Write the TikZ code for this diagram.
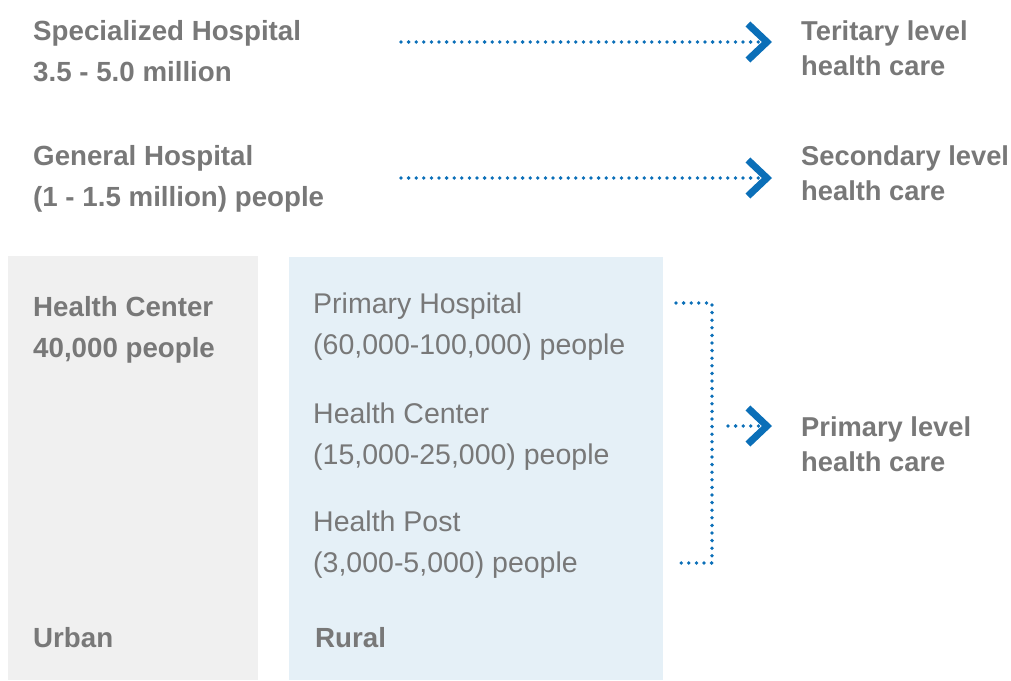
\documentclass[tikz,border=0pt]{standalone}
\usepackage{fontspec}
\setmainfont{Liberation Sans}
\usetikzlibrary{arrows.meta}
\definecolor{labelgray}{HTML}{787878}
\definecolor{urbanfill}{HTML}{F0F0F0}
\definecolor{ruralfill}{HTML}{E5F0F7}
\definecolor{careblue}{HTML}{0B6FB8}
\begin{document}
\begin{tikzpicture}[x=1pt, y=-1pt,
		bigtext/.style={anchor=base west, inner sep=0pt, align=left, text=labelgray, font=\fontsize{27.7}{41}\selectfont\bfseries},
		areatext/.style={anchor=base west, inner sep=0pt, align=left, text=labelgray, font=\fontsize{28.5}{41}\selectfont},
		leveltext/.style={anchor=base west, inner sep=0pt, align=left, text=labelgray, font=\fontsize{27.3}{35}\selectfont\bfseries},
		dotline/.style={draw=careblue, line width=3.8pt, line cap=round, dash pattern=on 0pt off 7.6pt},
		chevron/.style={dotline, -{Straight Barb[length=19pt, width=36pt, line width=7pt, sep=5pt]}}]
	\useasboundingbox (0,0) rectangle (1011,680);
	% Background areas
	\fill [urbanfill] (8,256) rectangle (258,680);
	\fill [ruralfill] (289,257) rectangle (663,680);
	% Hospital levels
	\node [bigtext] (spec) at (33,81) {Specialized Hospital\\3.5 - 5.0 million};
	\node [bigtext] (gen) at (33,206) {General Hospital\\(1 - 1.5 million) people};
	% Urban side
	\node [bigtext] (hc-urban) at (33,357) {Health Center\\40,000 people};
	\node [bigtext] (urban) at (33,647) {Urban};
	% Rural side
	\node [areatext] (ph) at (313,354) {Primary Hospital\\(60,000-100,000) people};
	\node [areatext] (hc) at (313,464) {Health Center\\(15,000-25,000) people};
	\node [areatext] (hp) at (313,572) {Health Post\\(3,000-5,000) people};
	\node [bigtext] (rural) at (315,647) {Rural};
	% Care levels
	\node [leveltext] (tert) at (801,75) {Teritary level\\health care};
	\node [leveltext] (sec) at (801,200) {Secondary level\\health care};
	\node [leveltext] (prim) at (801,471) {Primary level\\health care};
	% Arrows
	\coordinate (spec-out) at (401,42);
	\coordinate (gen-out) at (401,178);
	\draw [chevron] (spec-out) -- ([xshift=-24pt]tert.west |- spec-out);
	\draw [chevron] (gen-out) -- ([xshift=-24pt]sec.west |- gen-out);
	% Primary bracket
	\coordinate (ph-out) at (676,303);
	\coordinate (hp-out) at (676,563);
	\coordinate (bracket-mid) at (728,426);
	\draw [dotline] (ph-out) -- (712,303) -- (712,563) -- (hp-out);
	\draw [chevron] (bracket-mid) -- ([xshift=-24pt]prim.west |- bracket-mid);
\end{tikzpicture}
\end{document}
